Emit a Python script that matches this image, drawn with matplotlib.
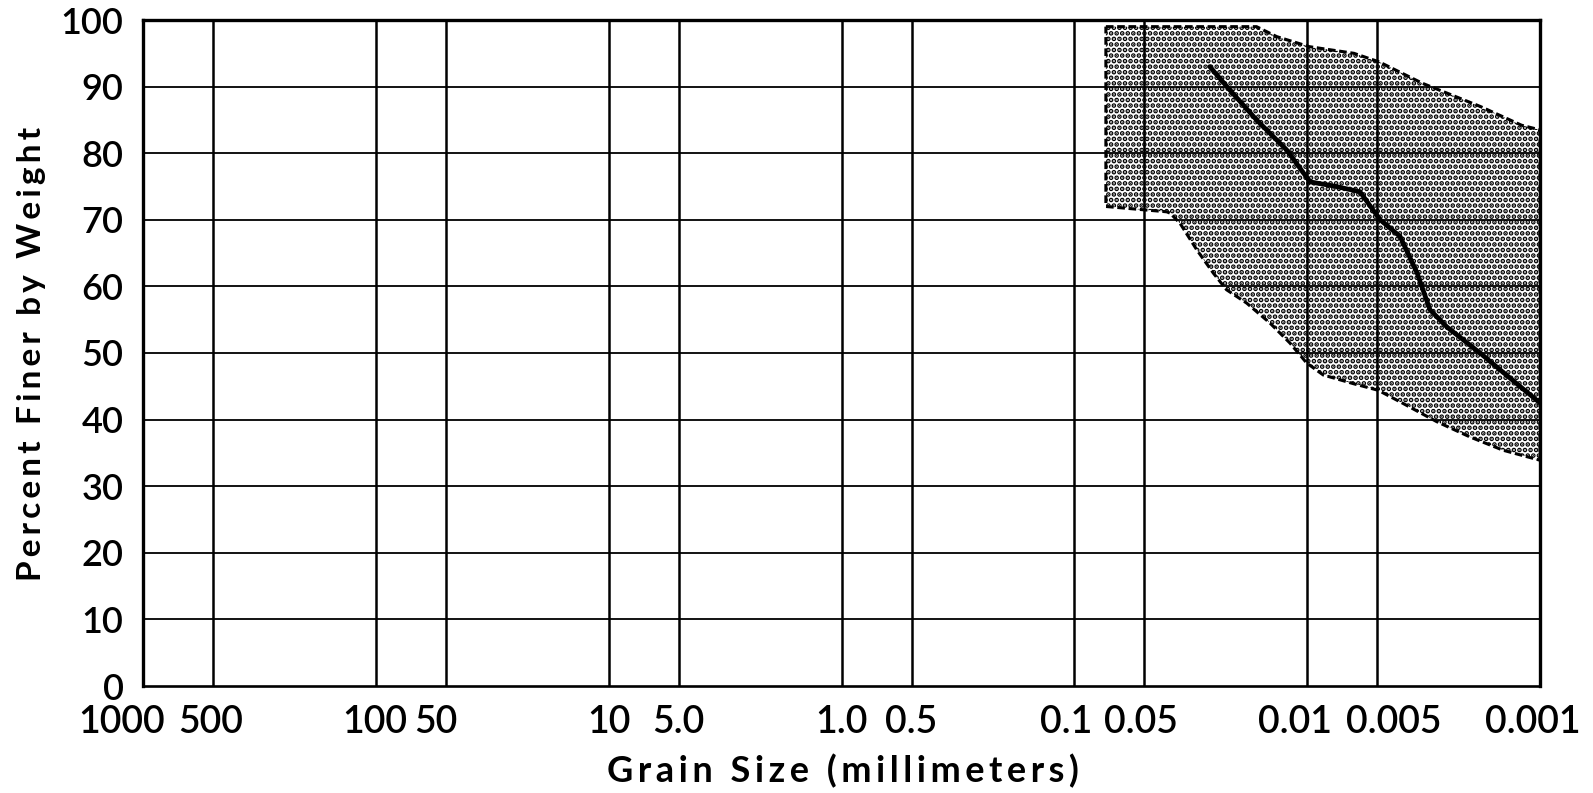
import numpy as np
import matplotlib.pyplot as plt
from matplotlib import transforms
from matplotlib.patches import Polygon

plt.rcParams['font.family'] = ['Lato', 'DejaVu Sans']
plt.rcParams['hatch.linewidth'] = 2.4
plt.rcParams['hatch.color'] = 'black'

# grain sizes (mm) that get a gridline, and how they are printed
grid_sizes = [1000, 500, 100, 50, 10, 5, 1, 0.5, 0.1, 0.05, 0.01, 0.005, 0.001]
size_labels = ['1000', '500', '100', '50', '10', '5.0', '1.0', '0.5',
               '0.1', '0.05', '0.01', '0.005', '0.001']
percent_ticks = list(range(0, 101, 10))

# envelope of all the gradation curves
upper_size = [0.0732, 0.0165, 0.0135, 0.0098, 0.0063, 0.0049, 0.0032,
              0.0025, 0.0018, 0.0012, 0.001]
upper_pct = [99.0, 99.0, 97.5, 96.0, 95.0, 93.7, 90.5, 89.0, 87.0, 84.2, 83.5]

lower_size = [0.0732, 0.0401, 0.0388, 0.0352, 0.0298, 0.0253, 0.0222, 0.0182,
              0.01445, 0.01186, 0.01005, 0.00853, 0.00634, 0.00495, 0.00386,
              0.00278, 0.0020, 0.00144, 0.001]
lower_pct = [72.0, 71.2, 71.0, 69.5, 65.5, 62.0, 59.5, 57.5, 54.5, 51.5, 48.5,
             46.7, 45.4, 44.4, 42.4, 39.7, 37.4, 35.4, 33.9]

# average gradation curve
mean_size = [0.0262, 0.0215, 0.0165, 0.01225, 0.00973, 0.0075, 0.00593,
             0.00486, 0.00399, 0.00337, 0.00297, 0.00251, 0.00181, 0.00131, 0.001]
mean_pct = [93.0, 89.5, 85.0, 80.5, 75.7, 75.0, 74.2, 70.0, 67.5, 62.0, 56.5,
            53.9, 50.0, 45.9, 42.5]

# small sideways nudges (pixels) for the hand-set size labels
label_nudge = [-21, -2, -1, -10, 0, 0, 0, 0, -8, -3, -12, 16, -7]


def spaced(text, gap='\u2009'):
    # loose letter spacing, the way the lettering was set
    return gap.join(text)


fig = plt.figure(figsize=(15.93, 7.93), dpi=100)
ax = fig.add_axes([143 / 1593, 1 - 686 / 793, 1397 / 1593, 666 / 793])

ax.set_xscale('log')
ax.set_xlim(1000, 0.001)
ax.set_ylim(0, 100)

for s in grid_sizes[1:-1]:
    ax.axvline(s, color='black', lw=1.8, zorder=1)
for p in percent_ticks[1:-1]:
    ax.axhline(p, color='black', lw=1.3, zorder=1)

band = list(zip(upper_size, upper_pct)) + list(zip(lower_size, lower_pct))[::-1]
ax.add_patch(Polygon(band, closed=True, facecolor='none', hatch='...',
                     edgecolor='black', lw=2.2, ls=(0, (2.5, 1.2)), zorder=2))
ax.plot(mean_size, mean_pct, color='black', lw=3.4, solid_capstyle='round',
        zorder=3)

for side in ['top', 'left', 'right']:
    ax.spines[side].set_linewidth(2.4)
ax.spines['bottom'].set_linewidth(1.9)

ax.set_yticks(percent_ticks)
ax.set_yticklabels([str(p) for p in percent_ticks], fontweight='semibold')
ax.tick_params(axis='y', length=0, pad=14, labelsize=26)
ax.set_xticks([])
ax.xaxis.set_minor_locator(plt.NullLocator())

base = transforms.blended_transform_factory(ax.transData, ax.transAxes)
for s, lab, dx in zip(grid_sizes, size_labels, label_nudge):
    tr = transforms.offset_copy(base, fig=fig, x=dx, y=-19, units='dots')
    ax.text(s, 0, lab, transform=tr, ha='center', va='top', fontsize=27,
            fontweight='semibold')

fig.text(32 / 1593, 1 - 354 / 793, spaced('Percent Finer by Weight'),
         rotation=90, ha='center', va='center', fontsize=24, fontweight='bold')
fig.text(843 / 1593, 1 - 771 / 793, spaced('Grain Size (millimeters)'),
         ha='center', va='center', fontsize=26, fontweight='bold')

fig.savefig('out.png', dpi=100)
